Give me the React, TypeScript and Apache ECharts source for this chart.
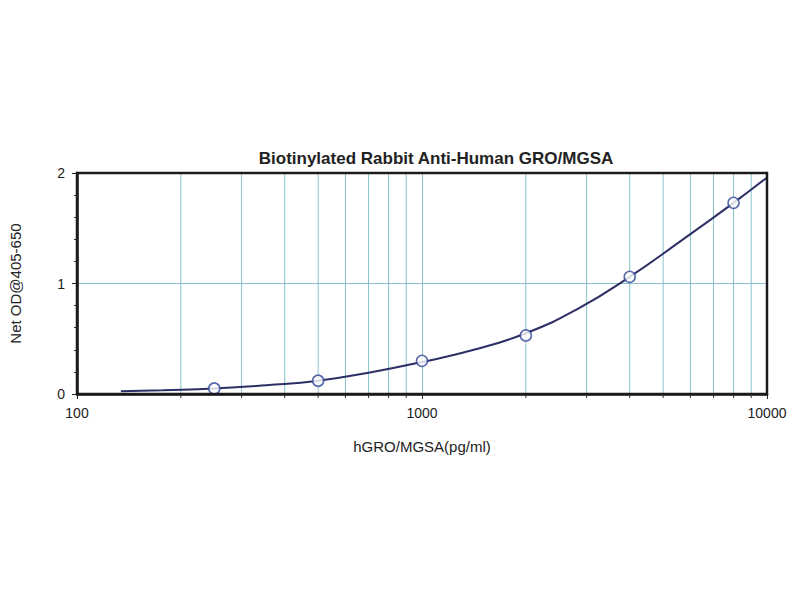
import React, { useEffect, useRef } from "react";
import * as echarts from "echarts";

const titleText = "Biotinylated Rabbit Anti-Human GRO/MGSA";
const xName = "hGRO/MGSA(pg/ml)";
const yName = "Net OD@405-650";

// measured standards
const concentrations = [250, 500, 1000, 2000, 4000, 8000];
const odValues = [0.05, 0.12, 0.3, 0.53, 1.06, 1.73];

// fitted curve
const curveX = [134, 177, 250, 354, 500, 707, 1000, 1414, 2000, 2828, 4000, 5657, 8000, 10000];
const curveY = [0.025, 0.035, 0.05, 0.08, 0.12, 0.195, 0.29, 0.4, 0.55, 0.77, 1.06, 1.39, 1.73, 1.96];

// minor log gridlines
const minorGrid = [200, 300, 400, 500, 600, 700, 800, 900, 2000, 3000, 4000, 5000, 6000, 7000, 8000, 9000];

const FONT = "Liberation Sans, Arial, sans-serif";
const GRID_COLOR = "#86c3cb";

export default function App() {
  const ref = useRef<HTMLDivElement>(null);

  useEffect(() => {
    if (!ref.current) return;
    const chart = echarts.init(ref.current, undefined, { renderer: "svg" });
    chart.setOption({
      animation: false,
      backgroundColor: "#ffffff",
      textStyle: { fontFamily: FONT },
      title: {
        text: titleText,
        left: 431,
        top: 145,
        textAlign: "center",
        textStyle: { fontSize: 17, fontWeight: "bold", color: "#222", fontFamily: FONT },
      },
      grid: {
        left: 76,
        right: 33,
        top: 173,
        bottom: 206,
        show: true,
        borderColor: "#1a1a1a",
        borderWidth: 2.5,
        backgroundColor: "transparent",
        z: 5,
      },
      xAxis: {
        type: "log",
        logBase: 10,
        min: 100,
        max: 10000,
        name: xName,
        nameLocation: "middle",
        nameGap: 45,
        nameTextStyle: { fontSize: 15, color: "#222", fontFamily: FONT },
        axisLine: { show: true, lineStyle: { color: "#1a1a1a", width: 2.5 } },
        axisTick: { show: true, length: 5, lineStyle: { color: "#222" } },
        axisLabel: {
          fontSize: 14,
          color: "#222",
          margin: 12,
          formatter: (v: number) => String(Math.round(v)),
        },
        splitLine: {
          show: true,
          showMinLine: false,
          showMaxLine: false,
          lineStyle: { color: GRID_COLOR, width: 1 },
        },
        minorTick: { show: false },
        minorSplitLine: { show: false },
      },
      yAxis: {
        type: "value",
        min: 0,
        max: 2,
        interval: 1,
        name: yName,
        nameLocation: "middle",
        nameGap: 54,
        nameTextStyle: { fontSize: 15, color: "#222", fontFamily: FONT },
        axisLine: { show: true, lineStyle: { color: "#1a1a1a", width: 2.5 } },
        axisTick: { show: true, length: 5, lineStyle: { color: "#222" } },
        minorTick: { show: true, splitNumber: 5, length: 3, lineStyle: { color: "#333" } },
        axisLabel: { fontSize: 14, color: "#222", margin: 12 },
        splitLine: {
          show: true,
          showMinLine: false,
          showMaxLine: false,
          lineStyle: { color: GRID_COLOR, width: 1 },
        },
      },
      series: [
        {
          type: "custom",
          name: "minor-grid",
          clip: false,
          silent: true,
          z: 1,
          data: minorGrid.map((v) => [v, 0]),
          encode: { x: 0, y: 1 },
          renderItem: (_params: any, api: any) => {
            const v = api.value(0);
            const p0 = api.coord([v, 0]);
            const p1 = api.coord([v, 2]);
            return {
              type: "group",
              children: [
                {
                  type: "line",
                  shape: { x1: p0[0], y1: p0[1], x2: p1[0], y2: p1[1] },
                  style: { stroke: GRID_COLOR, lineWidth: 1 },
                },
                {
                  type: "line",
                  shape: { x1: p0[0], y1: p0[1], x2: p0[0], y2: p0[1] + 4 },
                  style: { stroke: "#333", lineWidth: 1 },
                },
              ],
            };
          },
        },
        {
          type: "line",
          name: "fit",
          data: curveX.map((x, i) => [x, curveY[i]]),
          smooth: 0.5,
          showSymbol: false,
          symbol: "none",
          z: 3,
          lineStyle: { color: "#2d2f66", width: 2 },
        },
        {
          type: "scatter",
          name: "standards",
          data: concentrations.map((x, i) => [x, odValues[i]]),
          symbol: "circle",
          symbolSize: 11,
          z: 4,
          itemStyle: { color: "#ffffff", borderColor: "#2f4596", borderWidth: 1.6 },
        },
      ],
    });
    return () => chart.dispose();
  }, []);

  return <div ref={ref} style={{ width: 800, height: 600, margin: -8 }} />;
}
